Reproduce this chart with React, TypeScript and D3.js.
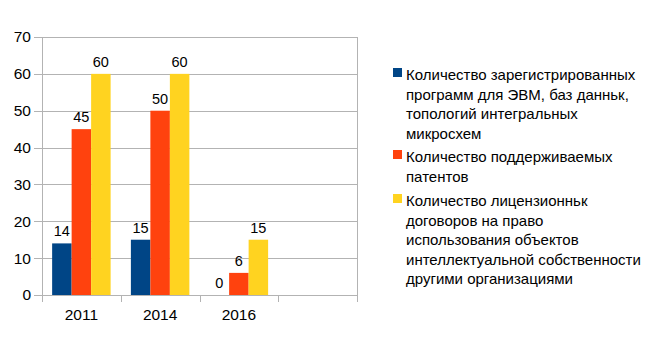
import React from "react";
import * as d3 from "d3";

const categories = ["2011", "2014", "2016", ""];
const seriesNames = [
  "Количество зарегистрированных программ для ЭВМ, баз данньк, топологий интегральных микросхем",
  "Количество поддерживаемых патентов",
  "Количество лицензионньк договоров на право использования объектов интеллектуальной собственности другими организациями",
];
const legendLines = [
  ["Количество зарегистрированных", "программ для ЭВМ, баз данньк,", "топологий интегральных", "микросхем"],
  ["Количество поддерживаемых", "патентов"],
  ["Количество лицензионньк", "договоров на право", "использования объектов", "интеллектуальной собственности", "другими организациями"],
];
const programs = [14, 15, 0, null];
const patents = [45, 50, 6, null];
const licenses = [60, 60, 15, null];
const yTicks = [0, 10, 20, 30, 40, 50, 60, 70];
const colors = ["#004586", "#ff420e", "#ffd320"];

const W = 650, H = 344;
const plot = { left: 42, right: 357, top: 37, bottom: 295 };
const FONT = "'Liberation Sans', Arial, sans-serif";

export default function App() {
  const seriesValues = [programs, patents, licenses];
  const x0 = d3.scaleBand<string>().domain(categories.map((c, i) => String(i))).range([plot.left, plot.right]).padding(0);
  const x1 = d3.scaleBand<string>().domain(seriesNames.map((_, i) => String(i))).range([0, x0.bandwidth()]).paddingInner(0).paddingOuter(0.52);
  const y = d3.scaleLinear().domain([0, 70]).range([plot.bottom, plot.top]);
  const boundaries = categories.map((_, i) => x0(String(i))!).concat([plot.right]);
  const legendStartY = [75, 157, 201];

  return (
    <svg width={W} height={H} style={{ position: "absolute", left: 0, top: 0, background: "#fff" }} fontFamily={FONT}>
      <rect width={W} height={H} fill="#fff" />
      {yTicks.map((t) => (
        <g key={t}>
          <line x1={plot.left - 8} x2={plot.right} y1={Math.round(y(t)) + 0.5} y2={Math.round(y(t)) + 0.5} stroke="#b3b3b3" />
          <text x={31} y={y(t)} dy="0.35em" textAnchor="end" fontSize={15.5} fill="#000">{t}</text>
        </g>
      ))}
      <line x1={plot.left + 0.5} x2={plot.left + 0.5} y1={plot.top} y2={plot.bottom} stroke="#b3b3b3" />
      <line x1={plot.right + 0.5} x2={plot.right + 0.5} y1={plot.top} y2={plot.bottom} stroke="#b3b3b3" />
      {boundaries.map((b, i) => (
        <line key={i} x1={Math.round(b) + 0.5} x2={Math.round(b) + 0.5} y1={plot.bottom} y2={plot.bottom + 7} stroke="#b3b3b3" />
      ))}
      {seriesValues.map((vals, s) =>
        vals.map((v, c) => {
          if (v === null) return null;
          const bx = x0(String(c))! + x1(String(s))!;
          const bw = x1.bandwidth();
          return (
            <g key={`${s}-${c}`}>
              <rect x={bx} y={y(v)} width={bw} height={plot.bottom - y(v)} fill={colors[s]} />
              <text x={bx + bw / 2} y={y(v) - 7} textAnchor="middle" fontSize={14.5} fill="#000">{v}</text>
            </g>
          );
        })
      )}
      {categories.map((c, i) => (
        <text key={i} x={x0(String(i))! + x0.bandwidth() / 2} y={315} dy="0.35em" textAnchor="middle" fontSize={15.5} fill="#000">{c}</text>
      ))}
      {legendLines.map((lines, i) => (
        <g key={i}>
          <rect x={393} y={legendStartY[i] - 7} width={9} height={9} fill={colors[i]} />
          {lines.map((ln, j) => (
            <text key={j} x={406} y={legendStartY[i] + j * 19.5} dy="0.35em" fontSize={15} fill="#000">{ln}</text>
          ))}
        </g>
      ))}
    </svg>
  );
}
